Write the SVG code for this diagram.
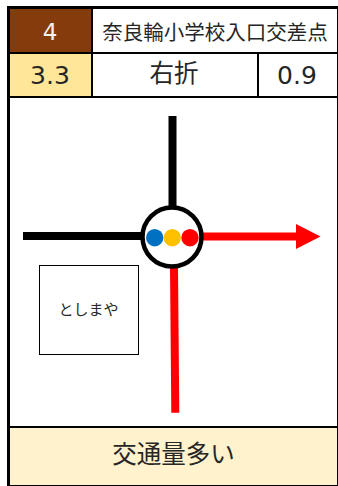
<svg xmlns="http://www.w3.org/2000/svg" width="338" height="486" viewBox="0 0 338 486">
<style>
text{font-family:"Noto Sans CJK JP","DejaVu Sans",sans-serif;fill:#262626;text-anchor:middle}
.n{font-family:"DejaVu Sans",sans-serif;font-size:25px}
.b{stroke:#000;fill:none}
.road{fill:none;stroke-width:8}
</style>
<rect width="338" height="486" fill="#fff"/>
<g id="header">
<rect x="10" y="9" width="81" height="43" fill="#843c0c"/>
<rect x="10" y="54" width="81" height="42" fill="#ffe699"/>
<rect x="10" y="428" width="327" height="57" fill="#fff2cc"/>
<path class="b" stroke-width="2" d="M92 9V96M258 54V96M10 53H337M10 97H337M10 427H337"/>
<path class="b" stroke-width="3" d="M8.500 486V7.500H337"/>
<path d="M337 6H338V486H337ZM7 485H338V486H7Z" fill="#000"/>
<text class="n" x="50" y="40" style="fill:#f2f2f2;font-size:23px">4</text>
<text x="215" y="40" font-size="20.500">奈良輪小学校入口交差点</text>
<text class="n" x="50" y="84">3.3</text>
<text x="174" y="82" font-size="24.500">右折</text>
<text class="n" x="297" y="84">0.9</text>
<text x="173.500" y="463" font-size="24.500">交通量多い</text>
</g>
<g id="connectors">
<path class="road" stroke="#000" d="M172.500 116V208"/>
<path class="road" stroke="#000" d="M23 236H142"/>
<path class="road" stroke="#f00" d="M202 236.500H297"/>
<path class="road" stroke="#f00" d="M174 267L175.300 412.700"/>
<path d="M296 224L320.500 236.500L296 249Z" fill="#f00"/>
</g>
<g id="shop">
<rect x="39.500" y="265.500" width="99" height="89" fill="#fff" stroke="#000"/>
<text x="88.500" y="315" font-size="15">としまや</text>
</g>
<g id="intersection">
<circle cx="172" cy="237" r="29.500" fill="#fff" stroke="#000" stroke-width="4.500"/>
<circle cx="154.700" cy="237.700" r="8.700" fill="#0070c0"/>
<circle cx="172.300" cy="237.700" r="8.700" fill="#ffc000"/>
<circle cx="190" cy="237.700" r="8.700" fill="#f00"/>
</g>
</svg>
